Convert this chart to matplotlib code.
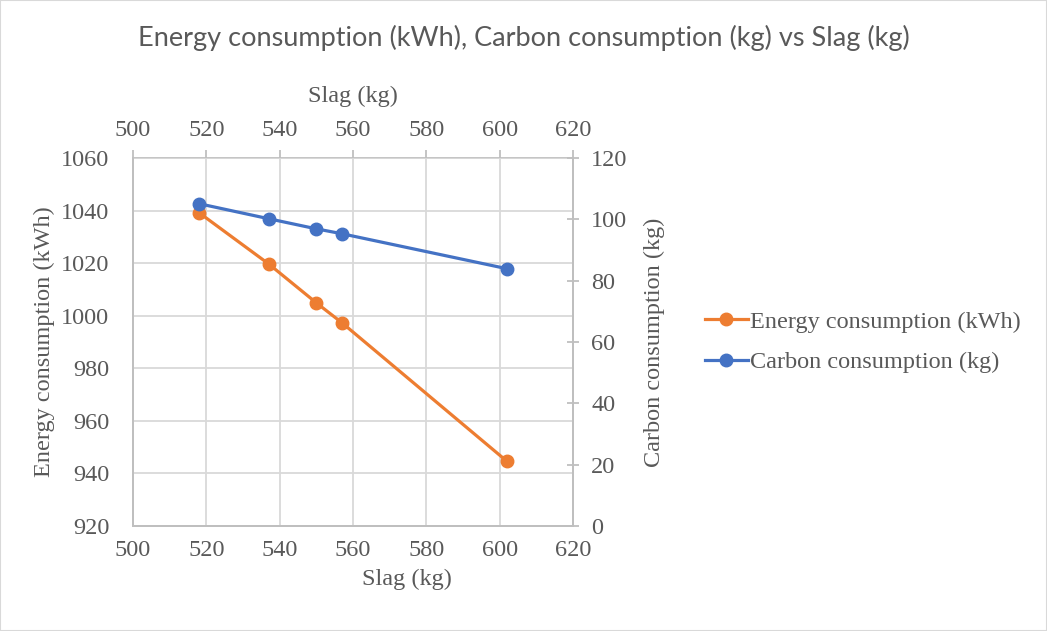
import matplotlib
matplotlib.use("Agg")
import matplotlib.pyplot as plt
from matplotlib.lines import Line2D
from matplotlib.patches import Rectangle

slag = [518, 537, 550, 557, 602]
energy = [1039.2, 1019.7, 1004.9, 997.3, 944.6]
carbon = [105.1, 100.2, 96.9, 95.3, 83.9]
x_ticks = [500, 520, 540, 560, 580, 600, 620]
energy_ticks = [920, 940, 960, 980, 1000, 1020, 1040, 1060]
carbon_ticks = [0, 20, 40, 60, 80, 100, 120]

TXT = "#595959"
GRID = "#d9d9d9"
SPINE = "#bfbfbf"
ORANGE = "#ED7D31"
BLUE = "#4472C4"
SERIF = "Liberation Serif"
FS = 17.5
MS = 9

plt.rcParams["font.family"] = SERIF

fig = plt.figure(figsize=(10.47, 6.31), dpi=100)
fig.patches.append(Rectangle((0, 0), 1, 1, transform=fig.transFigure,
                             fill=False, edgecolor=GRID, linewidth=1.5))
ax = fig.add_axes([133/1047, 1-526/631, (573-133)/1047, (526-158)/631])
ax2 = ax.twinx()

ax.plot(slag, energy, color=ORANGE, lw=2.3, marker="o", ms=MS, zorder=3)
ax2.plot(slag, carbon, color=BLUE, lw=2.3, marker="o", ms=MS, zorder=3)

ax.set_xlim(500, 620)
ax.set_ylim(920, 1060)
ax2.set_ylim(0, 120)
ax.set_xticks(x_ticks)
ax.set_yticks(energy_ticks)
ax2.set_yticks(carbon_ticks)
ax.grid(True, color=GRID, lw=1.3)
ax.set_axisbelow(True)

for a in (ax, ax2):
    for s in a.spines.values():
        s.set_color(SPINE)
        s.set_linewidth(1.3)
ax.spines["top"].set_visible(False)
ax2.spines["top"].set_visible(False)

ax.tick_params(axis="y", length=0, labelsize=FS, labelcolor=TXT, pad=17)
ax.tick_params(axis="x", length=0, labelsize=FS, labelcolor=TXT, pad=10)
ax2.tick_params(axis="y", direction="inout", length=8, color=SPINE, width=1.3,
                labelsize=FS, labelcolor=TXT, pad=9)

top = ax.secondary_xaxis("top")
top.set_xticks(x_ticks)
top.spines["top"].set_color(SPINE)
top.spines["top"].set_linewidth(1.3)
top.tick_params(direction="out", length=6, color=SPINE, width=1.3,
                labelsize=FS, labelcolor=TXT, pad=6)
top.set_xlabel("Slag (kg)", fontsize=FS, color=TXT, labelpad=13, family=SERIF)

for lbl in (ax.get_xticklabels() + ax.get_yticklabels() + ax2.get_yticklabels()
            + top.get_xticklabels()):
    lbl.set_fontfamily(SERIF)

ax.set_xlabel("Slag (kg)", fontsize=FS, color=TXT, family=SERIF)
ax.xaxis.set_label_coords((407-133)/440, -0.115)
ax.set_ylabel("Energy consumption (kWh)", fontsize=FS, color=TXT, family=SERIF)
ax.yaxis.set_label_coords(-0.178, 0.5)
ax2.set_ylabel("Carbon consumption (kg)", fontsize=FS, color=TXT, family=SERIF)
ax2.yaxis.set_label_coords(1.162, 0.5)

fig.text(0.5, 1-38/631, "Energy consumption (kWh), Carbon consumption (kg) vs Slag (kg)",
         ha="center", va="center", fontsize=19.5, color=TXT, family="Lato")

handles = [Line2D([], [], color=ORANGE, lw=2.3, marker="o", ms=MS),
           Line2D([], [], color=BLUE, lw=2.3, marker="o", ms=MS)]
fig.legend(handles, ["Energy consumption (kWh)", "Carbon consumption (kg)"],
           loc="center left", bbox_to_anchor=(693/1047, 1-342/631), frameon=False,
           prop={"size": FS, "family": SERIF}, labelcolor=TXT,
           handlelength=1.75, handletextpad=0.1, labelspacing=0.75, borderpad=0)

fig.savefig("out.png", dpi=100)
